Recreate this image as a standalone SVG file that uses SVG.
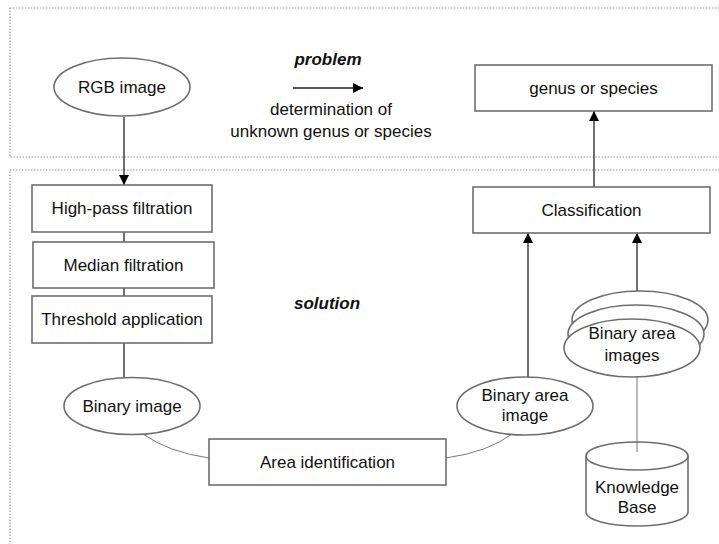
<svg xmlns="http://www.w3.org/2000/svg" width="719" height="544" viewBox="0 0 719 544">
<defs>
<marker id="ah" viewBox="0 0 10 10" refX="10" refY="5" markerWidth="10" markerHeight="10" markerUnits="userSpaceOnUse" orient="auto">
<path d="M0,0 L10,5 L0,10 z" fill="#000"/>
</marker>
</defs>
<style>
text{font-family:"Liberation Sans",Arial,sans-serif;font-size:17px;fill:#111;text-anchor:middle}
.bi{font-weight:bold;font-style:italic}
.zone{fill:none;stroke:#9a9a9a;stroke-width:1.2;stroke-dasharray:1.5 1.5}
.box{fill:#fff;stroke:#6e6e6e;stroke-width:1.6}
.ell{fill:#fff;stroke:#6e6e6e;stroke-width:1.6}
.cyl{fill:none;stroke:#6e6e6e;stroke-width:1.6}
.ln{fill:none;stroke:#222;stroke-width:1.3}
.arr{fill:none;stroke:#222;stroke-width:1.3;marker-end:url(#ah)}
.thin{fill:none;stroke:#777;stroke-width:1}
</style>
<rect width="719" height="544" fill="#fff"/>
<g id="zones">
<rect class="zone" x="10" y="8" width="720" height="149"/>
<rect class="zone" x="10" y="170" width="720" height="390"/>
</g>
<g id="connectors">
<line class="arr" x1="124" y1="117" x2="124" y2="185"/>
<line class="ln" x1="124" y1="232" x2="124" y2="242"/>
<line class="ln" x1="124" y1="288" x2="124" y2="296"/>
<line class="ln" x1="124" y1="343" x2="124" y2="378"/>
<path class="thin" d="M143,434 Q168,452 209,458"/>
<path class="thin" d="M512,434 Q488,452 446,458"/>
<line class="arr" x1="528" y1="378" x2="528" y2="233"/>
<line class="arr" x1="637" y1="292" x2="637" y2="233"/>
<line class="arr" x1="594" y1="187" x2="594" y2="111"/>
<line class="thin" x1="637" y1="377" x2="637" y2="452"/>
<line class="arr" x1="293" y1="88" x2="363" y2="88"/>
</g>
<g id="labels">
<text class="bi" x="328" y="65">problem</text>
<text x="331" y="115">determination of</text>
<text x="331" y="137">unknown genus or species</text>
<text class="bi" x="327" y="309">solution</text>
</g>
<g id="rgb">
<ellipse class="ell" cx="122" cy="87" rx="68" ry="29"/>
<text x="122" y="93">RGB image</text>
</g>
<g id="highpass">
<rect class="box" x="32" y="185" width="180" height="47"/>
<text x="122" y="214">High-pass filtration</text>
</g>
<g id="median">
<rect class="box" x="33" y="242" width="181" height="46"/>
<text x="123.5" y="271">Median filtration</text>
</g>
<g id="threshold">
<rect class="box" x="32" y="296" width="180" height="47"/>
<text x="122" y="325">Threshold application</text>
</g>
<g id="binary">
<ellipse class="ell" cx="132" cy="406" rx="68" ry="28.5"/>
<text x="132" y="412">Binary image</text>
</g>
<g id="area">
<rect class="box" x="209" y="439" width="237" height="46"/>
<text x="327.5" y="468">Area identification</text>
</g>
<g id="binaryarea">
<ellipse class="ell" cx="525" cy="406" rx="68" ry="29"/>
<text x="525" y="401">Binary area</text>
<text x="525" y="421">image</text>
</g>
<g id="classification">
<rect class="box" x="473" y="187" width="237" height="46"/>
<text x="591.5" y="216">Classification</text>
</g>
<g id="genus">
<rect class="box" x="475" y="65" width="237" height="46"/>
<text x="593.5" y="94">genus or species</text>
</g>
<g id="stack">
<ellipse class="ell" cx="640" cy="320" rx="68" ry="29"/>
<ellipse class="ell" cx="636" cy="334" rx="68" ry="29"/>
<ellipse class="ell" cx="632" cy="348" rx="68" ry="29"/>
<text x="632" y="339">Binary area</text>
<text x="632" y="361">images</text>
</g>
<g id="kb">
<path class="cyl" d="M586,456 L586,512 A51,14 0 0 0 688,512 L688,456"/>
<ellipse class="cyl" cx="637" cy="456" rx="51" ry="14"/>
<text x="637" y="493">Knowledge</text>
<text x="637" y="513">Base</text>
</g>
</svg>
